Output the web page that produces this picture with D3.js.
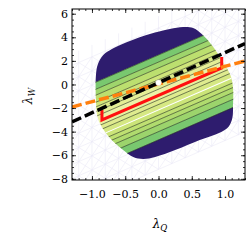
<!DOCTYPE html>
<html>
<head>
<meta charset="utf-8">
<script src="https://cdn.jsdelivr.net/npm/d3@7"></script>
<style>
  body { margin: 0; background: #fff; }
</style>
</head>
<body>
<div id="chart"></div>
<script>
// axis ranges and ticks
const xDomain = [-1.3, 1.3];
const yDomain = [-8.1, 6.4];
const xTicks = [-1.0, -0.5, 0.0, 0.5, 1.0];
const yTicks = [-8, -6, -4, -2, 0, 2, 4, 6];
const xMinor = d3.range(-1.3, 1.31, 0.1);
const yMinor = d3.range(-8, 6.01, 0.5);

// bands run along lambda_W = v + slope * lambda_Q
const slope = 2.45;

// outline of the allowed region (lambda_Q, lambda_W)
const regionQ = [-0.94, -0.91, -0.83, -0.70, -0.47, -0.13, 0.17, 0.37, 0.52, 0.65, 0.80, 0.95, 1.08, 1.12,
                 1.12, 1.11, 1.05, 0.91, 0.62, 0.25, -0.05, -0.23, -0.38, -0.55, -0.73, -0.86, -0.92, -0.94];
const regionW = [0.81, 1.74, 2.50, 3.01, 3.60, 4.28, 4.70, 4.87, 4.79, 4.28, 3.35, 2.08, 0.81, -0.30,
                 -1.74, -2.84, -3.60, -4.11, -4.70, -5.55, -6.14, -6.31, -6.14, -5.47, -4.53, -3.52, -2.67, -1.31];

// band edges (v) from top to bottom, and the fill of each band
const bandEdges = [9, 2.5, 1.9, 1.4, 0.8, 0.4, 0.0, -0.4, -0.9, -1.3, -1.7, -2.16, -2.6, -3.0, -3.43, -4.0, -4.7, -12];
const bandColors = ["#2e1c6e", "#79c86f", "#9fd56c", "#bcdf6f", "#cfe57a", "#dbea88", "#e4ee96", "#ebf1a6",
                    "#e8f0a0", "#dfeb8f", "#d6e883", "#cbe478", "#bfe072", "#b0db6e", "#9cd46c", "#79c86f", "#2e1c6e"];
const contourLevels = [2.5, 1.9, 1.4, 0.8, 0.4, 0.0, -0.4, -1.3, -1.7, -2.6, -3.0, -3.43, -4.0, -4.7];
const whiteLevel = -2.16;

// faint mesh behind
const meshQ = d3.range(-1.4, 1.41, 0.2);
const meshV = d3.range(-7.2, 5.81, 1.2);
const meshRange = [-7.2, 5.8];

// lines
const redQ = [-0.85, -0.85, 0.95, 0.95];
const redW = [-2.16, -3.0, 1.4, 2.33];
const blackQ = [-1.3, 1.3];
const blackW = [-3.17, 3.47];
const orangeQ = [-1.3, 1.3];
const orangeW = [-1.91, 1.99];
const bestQ = 0.0, bestW = 0.15;

const W = 250, H = 250;
const x = d3.scaleLinear().domain(xDomain).range([72, 245]);
const y = d3.scaleLinear().domain(yDomain).range([180, 9]);

const svg = d3.select("#chart").append("svg")
  .attr("width", W).attr("height", H);

svg.append("clipPath").attr("id", "plotclip")
  .append("rect").attr("x", 72).attr("y", 9).attr("width", 173).attr("height", 171);

const region = regionQ.map((q, i) => [q, regionW[i]]);
const outline = d3.line().x(d => x(d[0])).y(d => y(d[1])).curve(d3.curveCatmullRomClosed.alpha(0.5));

svg.append("clipPath").attr("id", "regionclip")
  .append("path").attr("d", outline(region));

const plot = svg.append("g").attr("clip-path", "url(#plotclip)");

// mesh
const mesh = plot.append("g")
  .attr("stroke", "#cdc9ea").attr("stroke-width", 0.5).attr("fill", "none").attr("opacity", 0.45);
const vLine = (v) => [[xDomain[0] - 0.2, v + slope * (xDomain[0] - 0.2)], [xDomain[1] + 0.2, v + slope * (xDomain[1] + 0.2)]];
const lineGen = d3.line().x(d => x(d[0])).y(d => y(d[1]));
meshV.forEach(v => mesh.append("path").attr("d", lineGen(vLine(v))));
meshQ.forEach(q => mesh.append("path").attr("d", lineGen([[q, meshRange[0] + slope * q], [q, meshRange[1] + slope * q]])));
meshQ.forEach((q, i) => {
  meshV.forEach((v, j) => {
    if (i < meshQ.length - 1 && j < meshV.length - 1) {
      const q2 = meshQ[i + 1], v2 = meshV[j + 1];
      mesh.append("path").attr("d", lineGen([[q, v + slope * q], [q2, v2 + slope * q2]]));
      mesh.append("path").attr("d", lineGen([[q, v2 + slope * q], [q2, v + slope * q2]]));
    }
  });
});

// bands
const bands = plot.append("g").attr("clip-path", "url(#regionclip)");
const q0 = xDomain[0] - 0.2, q1 = xDomain[1] + 0.2;
bandColors.forEach((c, i) => {
  const a = bandEdges[i], b = bandEdges[i + 1];
  const poly = [[q0, a + slope * q0], [q1, a + slope * q1], [q1, b + slope * q1], [q0, b + slope * q0]];
  bands.append("path").attr("d", lineGen(poly) + "Z").attr("fill", c).attr("stroke", c).attr("stroke-width", 0.3);
});
contourLevels.forEach(v => {
  bands.append("path").attr("d", lineGen(vLine(v)))
    .attr("stroke", "#25301d").attr("stroke-width", 0.7).attr("fill", "none").attr("opacity", 0.85);
});
bands.append("path").attr("d", lineGen(vLine(whiteLevel)))
  .attr("stroke", "#ffffff").attr("stroke-width", 1.1).attr("fill", "none");

// red path
plot.append("path")
  .attr("d", lineGen(redQ.map((q, i) => [q, redW[i]])))
  .attr("fill", "none").attr("stroke", "#ff1010").attr("stroke-width", 3).attr("stroke-linejoin", "miter");

// dashed lines
plot.append("path")
  .attr("d", lineGen(orangeQ.map((q, i) => [q, orangeW[i]])))
  .attr("fill", "none").attr("stroke", "#ff7f0e").attr("stroke-width", 3.5).attr("stroke-dasharray", "10,4");
plot.append("path")
  .attr("d", lineGen(blackQ.map((q, i) => [q, blackW[i]])))
  .attr("fill", "none").attr("stroke", "#000").attr("stroke-width", 3.5).attr("stroke-dasharray", "10,4");

plot.append("circle").attr("cx", x(bestQ)).attr("cy", y(bestW)).attr("r", 2.8)
  .attr("fill", "#fff").attr("stroke", "#e6e6e6").attr("stroke-width", 0.5);

// axes
const font = "DejaVu Serif";
function styleAxis(g) {
  g.select(".domain").remove();
  g.selectAll("line").attr("stroke", "#000").attr("stroke-width", 0.8);
  g.selectAll("text").attr("font-family", font).attr("font-size", 11).attr("fill", "#000");
}
svg.append("g").attr("transform", "translate(0,180)")
  .call(d3.axisBottom(x).tickValues(xTicks).tickSize(-4).tickPadding(10).tickFormat(d3.format(".1f"))).call(styleAxis);
svg.append("g").attr("transform", "translate(0,180)")
  .call(d3.axisBottom(x).tickValues(xMinor).tickSize(-2).tickFormat("")).call(styleAxis);
svg.append("g").attr("transform", "translate(0,9)")
  .call(d3.axisTop(x).tickValues(xTicks).tickSize(-4).tickFormat("")).call(styleAxis);
svg.append("g").attr("transform", "translate(0,9)")
  .call(d3.axisTop(x).tickValues(xMinor).tickSize(-2).tickFormat("")).call(styleAxis);
svg.append("g").attr("transform", "translate(72,0)")
  .call(d3.axisLeft(y).tickValues(yTicks).tickSize(-4).tickPadding(4).tickFormat(d3.format("d"))).call(styleAxis);
svg.append("g").attr("transform", "translate(72,0)")
  .call(d3.axisLeft(y).tickValues(yMinor).tickSize(-2).tickFormat("")).call(styleAxis);
svg.append("g").attr("transform", "translate(245,0)")
  .call(d3.axisRight(y).tickValues(yTicks).tickSize(-4).tickFormat("")).call(styleAxis);
svg.append("g").attr("transform", "translate(245,0)")
  .call(d3.axisRight(y).tickValues(yMinor).tickSize(-2).tickFormat("")).call(styleAxis);

svg.append("rect").attr("x", 72).attr("y", 9).attr("width", 173).attr("height", 171)
  .attr("fill", "none").attr("stroke", "#000").attr("stroke-width", 1);

// axis labels
const xl = svg.append("text").attr("x", 160).attr("y", 228).attr("text-anchor", "middle")
  .attr("font-family", font).attr("font-size", 12).attr("font-style", "italic");
xl.append("tspan").text("λ");
xl.append("tspan").attr("font-size", 8.5).attr("dy", 3).text("Q");

const yl = svg.append("text").attr("transform", "translate(32,96) rotate(-90)").attr("text-anchor", "middle")
  .attr("font-family", font).attr("font-size", 12).attr("font-style", "italic");
yl.append("tspan").text("λ");
yl.append("tspan").attr("font-size", 8.5).attr("dy", 3).text("W");
</script>
</body>
</html>
